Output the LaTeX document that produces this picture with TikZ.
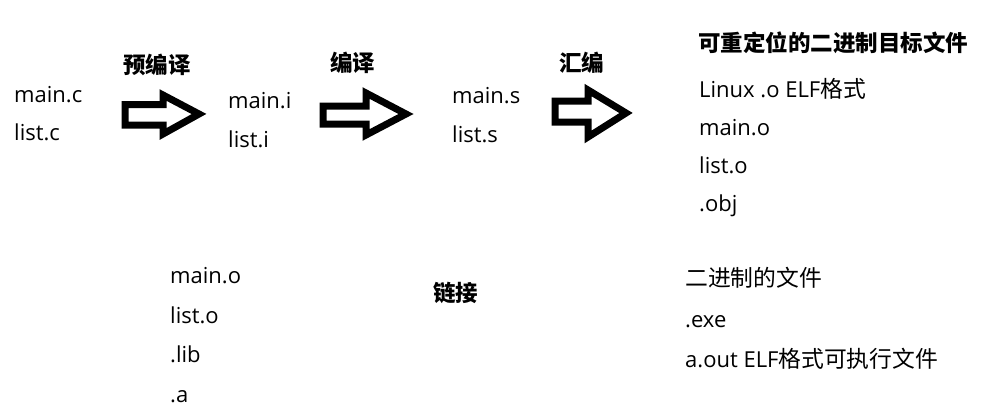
\documentclass[tikz,border=0pt]{standalone}
\usepackage{fontspec}
\setmainfont{Open Sans}
\newfontfamily\cjk{Noto Sans CJK SC}
\newcommand\zh[1]{{\fontsize{22.8}{24}\selectfont\cjk #1}}
\begin{document}
\begin{tikzpicture}[x=1pt,y=-1pt,
  txt/.style={anchor=base west,inner sep=0pt,font=\fontsize{22}{24}\selectfont,text=black},
  hd/.style={anchor=base west,inner sep=0pt,font=\fontsize{22.5}{24}\selectfont\cjk\bfseries,text=black},
  bigarrow/.style={draw=black,line width=7pt,fill=white,line join=miter}]
\useasboundingbox (0,0) rectangle (987,408);
% stage 1
\node[txt] (mc) at (14,102) {main.c};
\node[txt] (lc) at (14,140) {list.c};
\node[hd] (pre) at (123,73) {预编译};
\draw[bigarrow] (125,104.5) -- (163,104.5) -- (163,95) -- (199,114) -- (163,134) -- (163,125) -- (125,125) -- cycle;
% stage 2
\node[txt] (mi) at (228,108) {main.i};
\node[txt] (li) at (228,147) {list.i};
\node[hd] (comp) at (330,71) {编译};
\draw[bigarrow] (323,106) -- (366,106) -- (366,93) -- (406,114) -- (366,135) -- (366,124) -- (323,124) -- cycle;
% stage 3
\node[txt] (ms) at (452,103) {main.s};
\node[txt] (ls) at (452,142) {list.s};
\node[hd] (asm) at (559,71) {汇编};
\draw[bigarrow] (555,101) -- (588,101) -- (588,90) -- (626,113) -- (588,137) -- (588,122) -- (555,122) -- cycle;
% object files
\node[hd] (objt) at (698,51) {可重定位的二进制目标文件};
\node[txt] (elf) at (699,97) {Linux .o ELF\zh{格式}};
\node[txt] (mo) at (699,135) {main.o};
\node[txt] (lo) at (699,173) {list.o};
\node[txt] (obj) at (699,211) {.obj};
% linking inputs
\node[txt] (mo2) at (170,283) {main.o};
\node[txt] (lo2) at (170,323) {list.o};
\node[txt] (lib) at (170,362) {.lib};
\node[txt] (a) at (170,402) {.a};
\node[hd] (link) at (433,301) {链接};
% executable
\node[txt] (bin) at (685,286) {\zh{二进制的文件}};
\node[txt] (exe) at (685,327) {.exe};
\node[txt] (aout) at (685,367) {a.out ELF\zh{格式可执行文件}};
\end{tikzpicture}
\end{document}
